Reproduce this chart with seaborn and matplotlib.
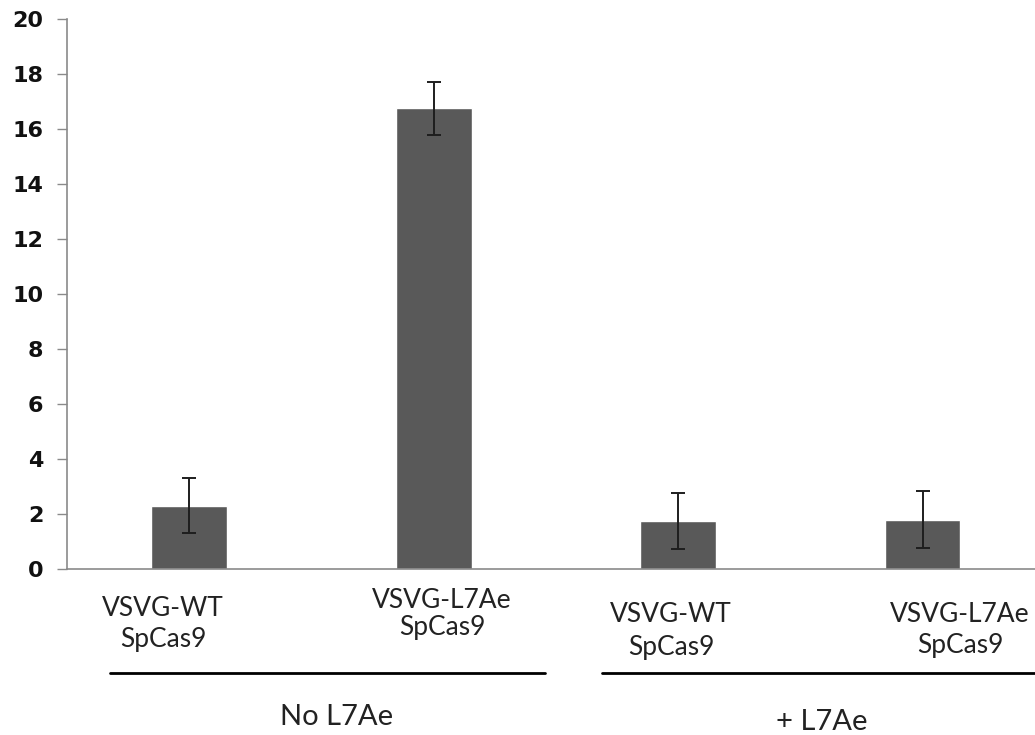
import matplotlib.pyplot as plt
import seaborn as sns
import pandas as pd
from matplotlib.lines import Line2D

# Data
conditions = ['VSVG-WT\nSpCas9', 'VSVG-L7Ae\nSpCas9', 'VSVG-WT\nSpCas9 ', 'VSVG-L7Ae\nSpCas9 ']
values = [2.3, 16.75, 1.75, 1.8]
errors = [1.0, 0.97, 1.02, 1.02]
groups = ['No L7Ae', '+ L7Ae']
yticks = [0, 2, 4, 6, 8, 10, 12, 14, 16, 18, 20]

df = pd.DataFrame({'condition': conditions, 'value': values, 'err': errors})

sns.set_style('white')
plt.rcParams['font.family'] = ['Lato', 'DejaVu Sans']

W, H = 1035, 735
fig = plt.figure(figsize=(W / 100, H / 100), dpi=100)
ax = fig.add_axes([67 / W, 1 - 569 / H, 1 - 67 / W, 550 / H])

sns.barplot(data=df, x='condition', y='value', color='#595959', saturation=1,
            width=0.31, ax=ax)
ax.errorbar(range(len(values)), df.value, yerr=df.err, fmt='none',
            ecolor='#1e1e1e', elinewidth=1.4, capsize=5, capthick=1.4)

ax.set_ylim(0, 20)
ax.set_xlim(-0.5, 3.46)
ax.set_yticks(yticks)
ax.set_yticklabels([str(t) for t in yticks], fontsize=16, fontweight='bold',
                   family='DejaVu Sans', color='#111111')
ax.tick_params(axis='y', direction='out', length=7, width=1, color='#8a8a8a',
               left=True, pad=10)
ax.set_xticks([])
ax.set_xlabel('')
ax.set_ylabel('')
sns.despine(ax=ax, top=True, right=True)
for s in ['left', 'bottom']:
    ax.spines[s].set_color('#8a8a8a')
    ax.spines[s].set_linewidth(1.2)

# category labels (placed like the text boxes of the original)
label_px = [(163, 624, 1.3), (442, 614, 1.05), (671, 631, 1.35), (960, 630, 1.3)]
for txt, (px, py, ls) in zip(conditions, label_px):
    fig.text(px / W, 1 - py / H, txt.strip(), ha='center', va='center',
             fontsize=19, color='#222222', linespacing=ls)

# group underlines and labels
for x0, x1 in [(110, 545), (602, 1035)]:
    fig.add_artist(Line2D([x0 / W, x1 / W], [1 - 673 / H, 1 - 673 / H],
                          color='black', lw=2))
for txt, px, py in zip(groups, [337, 822], [717, 722]):
    fig.text(px / W, 1 - py / H, txt, ha='center', va='center',
             fontsize=21, color='#222222')

fig.savefig('out.png', dpi=100)
